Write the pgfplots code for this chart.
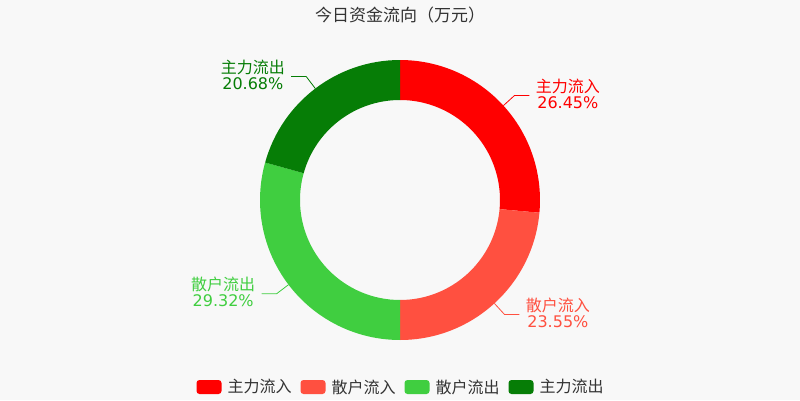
\documentclass[border=0pt]{standalone}
\usepackage{pgfplots}
\pgfplotsset{compat=1.18}
\usepackage{pgfplotstable}
\usepackage{fontspec}
\setmainfont{DejaVu Sans}
\newfontfamily\cjk{Noto Sans CJK SC}

\definecolor{bg}{HTML}{F8F8F8}
\definecolor{ink}{HTML}{333333}
\definecolor{c0}{HTML}{FF0000}
\definecolor{c1}{HTML}{FF5040}
\definecolor{c2}{HTML}{40CE40}
\definecolor{c3}{HTML}{067D06}

% share of each flow, clockwise from 12 o'clock
\pgfplotstableread[col sep=comma]{
name,share
主力流入,26.45
散户流入,23.55
散户流出,29.32
主力流出,20.68
}\flows

\newcommand\labfont{\fontsize{16}{16}\selectfont}
\newcommand\get[2]{\csname #1#2\endcsname}

% one ring slice plus its leader line and label
\newcommand\slice[1]{%
  \fill[c#1] (axis cs:400,200) ++(\get{s}{#1}:140pt)
    arc[start angle=\get{s}{#1}, end angle=\get{e}{#1}, radius=140pt]
    -- ++(\get{e}{#1}:-40pt)
    arc[start angle=\get{e}{#1}, end angle=\get{s}{#1}, radius=100pt] -- cycle;
  \draw[c#1, line width=0.8pt] (axis cs:400,200) ++(\get{m}{#1}:140pt)
    -- ++(\get{m}{#1}:15pt)
    -- ++(\get{d}{#1}*15pt,0pt)
    node[anchor=\get{a}{#1}, inner sep=0pt, xshift=\get{d}{#1}*6pt,
         yshift=1.5pt, align=center, font=\labfont, text=c#1]
    {{\cjk\get{n}{#1}}\\\get{v}{#1}\%};
}

\begin{document}
\begin{tikzpicture}
  \def\cum{0}
  \pgfplotsforeachungrouped \i in {0,...,3}{%
    \pgfplotstablegetelem{\i}{share}\of\flows
    \let\v\pgfplotsretval
    \expandafter\let\csname v\i\endcsname\v
    \pgfplotstablegetelem{\i}{name}\of\flows
    \expandafter\let\csname n\i\endcsname\pgfplotsretval
    \pgfmathsetmacro\st{90-3.6*\cum}%
    \pgfmathsetmacro\cum{\cum+\v}%
    \pgfmathsetmacro\en{90-3.6*\cum}%
    \pgfmathsetmacro\mi{(\st+\en)/2}%
    \pgfmathsetmacro\di{cos(\mi)>0 ? 1 : -1}%
    \expandafter\let\csname s\i\endcsname\st
    \expandafter\let\csname e\i\endcsname\en
    \expandafter\let\csname m\i\endcsname\mi
    \expandafter\let\csname d\i\endcsname\di
    \ifdim\di pt>0pt
      \expandafter\def\csname a\i\endcsname{west}%
    \else
      \expandafter\def\csname a\i\endcsname{east}%
    \fi
  }
  \begin{axis}[
      scale only axis,
      width=800pt, height=400pt,
      xmin=0, xmax=800, ymin=0, ymax=400,
      hide axis,
      clip=false,
      legend columns=4,
      legend image code/.code={%
        \fill[#1, rounded corners=3pt] (0pt,-7pt) rectangle (25pt,7pt);},
      legend style={
        at={(axis cs:400,13)}, anchor=center,
        draw=none, fill=none,
        font=\cjk\labfont, text=ink,
        nodes={inner sep=0pt},
        /tikz/every odd column/.append style={column sep=6pt},
        /tikz/every even column/.append style={column sep=9pt},
      },
    ]
    \fill[bg] (axis cs:0,0) rectangle (axis cs:800,400);
    \pgfplotsinvokeforeach{0,...,3}{%
      \slice{#1}
      \addlegendimage{fill=c#1, draw=none}
      \addlegendentryexpanded{\csname n#1\endcsname}
    }
    \node[text=ink, font=\cjk\fontsize{17}{17}\selectfont]
      at (axis cs:400,385) {今日资金流向（万元）};
  \end{axis}
\end{tikzpicture}
\end{document}
